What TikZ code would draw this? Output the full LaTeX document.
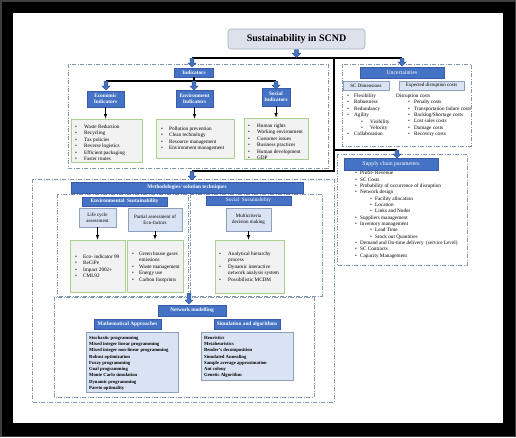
\documentclass[tikz,border=0pt]{standalone}
\usepackage{fontspec}
\setmainfont{Liberation Serif}
\usetikzlibrary{shapes.arrows}
\definecolor{boxblue}{HTML}{4472C4}
\definecolor{boxedge}{HTML}{3A5CA8}
\definecolor{arrowedge}{HTML}{2F528F}
\definecolor{paleblue}{HTML}{DAE3F3}
\definecolor{paleedge}{HTML}{8FA0BC}
\definecolor{titlefill}{HTML}{DCE1EC}
\definecolor{titleedge}{HTML}{A6AFC0}
\definecolor{listgray}{HTML}{F2F2F2}
\definecolor{listgreen}{HTML}{A9D08E}
\definecolor{groupline}{HTML}{8497B0}
\newcommand{\itm}[1]{\makebox[#1][l]{\textbullet}}
\begin{document}
\begin{tikzpicture}[x=1pt,y=-1pt,
    bluebox/.style={fill=boxblue,draw=boxedge,line width=0.4pt,text=white,align=center,inner sep=0pt,font=\fontsize{5.3}{6.2}\selectfont},
    palebox/.style={fill=paleblue,draw=paleedge,line width=0.5pt,align=center,inner sep=0pt,font=\fontsize{5}{6.2}\selectfont},
    listbox/.style={fill=listgray,draw=listgreen,line width=0.8pt,inner sep=0pt},
    group/.style={draw=groupline,line width=0.8pt,dash pattern=on 4pt off 1.5pt on 1pt off 1.5pt},
    trunk/.style={line width=1.2pt},
    pointer/.style={-latex,line width=0.6pt},
    blockarrow/.style={single arrow,shape border rotate=270,fill=boxblue,draw=arrowedge,line width=0.4pt,
        inner sep=1.7pt,single arrow head extend=2.2pt,single arrow head indent=0pt,minimum height=#1,anchor=tail},
    items/.style={anchor=north west,inner sep=0pt,align=left,font=\fontsize{5.2}{6.35}\selectfont}]
    \useasboundingbox (0,0) rectangle (516,437);
    \fill[black] (0,0) rectangle (516,437);
    \draw[black!75,line width=1.5pt] (0.75,0.75) rectangle (515.25,436.25);
    \fill[white] (13,13) rectangle (503,423);

    \draw[group] (68,64) rectangle (328,168);
    \draw[group] (342,64) rectangle (471,146);
    \draw[group] (337,154) rectangle (467,265);
    \draw[group] (32,179) rectangle (334,402);
    \draw[group] (57,194) rectangle (188,296);
    \draw[group] (190,194) rectangle (322,296);
    \draw[group] (54,297) rectangle (314,397);

    \node[rounded corners=3pt,fill=titlefill,draw=titleedge,line width=0.6pt,minimum width=137pt,minimum height=20pt,
        font=\bfseries\fontsize{10}{12}\selectfont] (title) at (296.5,39) {Sustainability in SCND};

    \node[bluebox,minimum width=39pt,minimum height=9pt] (ind) at (194,72.5) {\textbf{Indicators}};
    \node[bluebox,minimum width=37pt,minimum height=16pt] (eco) at (105.5,99) {\textbf{Economic}\\\textbf{Indicators}};
    \node[bluebox,minimum width=37pt,minimum height=17pt] (env) at (194.5,98.5) {\textbf{Environment}\\\textbf{Indicators}};
    \node[bluebox,minimum width=28pt,minimum height=18pt] (soc) at (276,97) {\textbf{Social}\\\textbf{Indicators}};
    \node[bluebox,minimum width=84pt,minimum height=11pt,font=\fontsize{5.8}{7}\selectfont] (unc) at (402,72.5) {Uncertainties};
    \node[bluebox,minimum width=94pt,minimum height=12pt,font=\fontsize{5.8}{7}\selectfont] (sup) at (391,164) {Supply chain parameters};
    \node[bluebox,minimum width=232pt,minimum height=11pt] (meth) at (187,187.5) {\textbf{Methodologies/ solution techniques}};
    \node[bluebox,minimum width=85pt,minimum height=9pt] (envsus) at (124.5,201.5) {\textbf{Environmental\ \ Sustainability}};
    \node[bluebox,minimum width=85pt,minimum height=9pt] (socsus) at (248.5,200.5) {Social\ \ Sustainability};
    \node[bluebox,minimum width=68pt,minimum height=11pt] (net) at (192,310.5) {\textbf{Network modelling}};
    \node[bluebox,minimum width=67pt,minimum height=10pt] (math) at (127.5,324) {\textbf{Mathematical Approaches}};
    \node[bluebox,minimum width=66pt,minimum height=10pt] (sim) at (247,324) {\textbf{Simulation and algorithms}};

    \node[palebox,minimum width=46pt,minimum height=9pt] (scdim) at (366,85.5) {SC Dimensions};
    \node[palebox,minimum width=65pt,minimum height=9pt] (edc) at (431.5,85.5) {Expected disruption costs};
    \node[palebox,minimum width=37pt,minimum height=19pt] (lca) at (97.5,217.5) {Life cycle\\assessment};
    \node[palebox,minimum width=54pt,minimum height=23pt] (pae) at (155,219.5) {Partial assessment of\\Eco-factors};
    \node[palebox,minimum width=45pt,minimum height=23pt] (mcdm) at (248.5,219.5) {Multicriteria\\decision making};
    \node[palebox,minimum width=92pt,minimum height=60pt] (mathlist) at (132,362) {};
    \node[palebox,minimum width=92pt,minimum height=48pt] (simlist) at (247,356) {};

    \node[listbox,minimum width=71pt,minimum height=43pt] (ecolist) at (106.5,140.5) {};
    \node[listbox,minimum width=78pt,minimum height=39pt] (envlist) at (195,138.5) {};
    \node[listbox,minimum width=64pt,minimum height=41pt] (soclist) at (276,138.5) {};
    \node[listbox,minimum width=55pt,minimum height=52pt] (lcalist) at (97.5,266) {};
    \node[listbox,minimum width=56pt,minimum height=52pt] (ecflist) at (155,266) {};
    \node[listbox,minimum width=69pt,minimum height=53pt] (mcdmlist) at (249.5,266.5) {};

    \node[items] (ecotext) at (75,124.8) {\itm{9pt}Waste Reduction\\\itm{9pt}Recycling\\\itm{9pt}Tax policies\\
        \itm{9pt}Reverse logistics\\\itm{9pt}Efficient packaging\\\itm{9pt}Faster routes};
    \node[items] (envtext) at (161,126.8) {\itm{8pt}Pollution prevention\\\itm{8pt}Clean technology\\
        \itm{8pt}Resource management\\\itm{8pt}Environment management};
    \node[items] (soctext) at (248,123.8) {\itm{9pt}Human rights\\\itm{9pt}Working environment\\\itm{9pt}Customer issues\\
        \itm{9pt}Business practices\\\itm{9pt}Human development\\\itm{9pt}GDP};
    \node[items] (dimtext) at (347,93.8) {\itm{7pt}Flexibility\\\itm{7pt}Robustness\\\itm{7pt}Redundancy\\\itm{7pt}Agility\\
        \hspace*{14pt}\itm{9pt}Visibility\\\hspace*{14pt}\itm{9pt}Velocity\\\itm{7pt}Collaboration};
    \node[items] (costtext) at (396,93.8) {Disruption costs\\\hspace*{12pt}\itm{6pt}Penalty costs\\
        \hspace*{12pt}\itm{6pt}Transportation failure costs\\\hspace*{12pt}\itm{6pt}Backlog/Shortage costs\\
        \hspace*{12pt}\itm{6pt}Lost sales costs\\\hspace*{12pt}\itm{6pt}Damage costs\\\hspace*{12pt}\itm{6pt}Recovery costs};
    \node[items] (suptext) at (355,170.8) {\itm{5pt}Profit- Revenue\\\itm{5pt}SC Costs\\
        \itm{5pt}Probability of occurrence of disruption\\\itm{5pt}Network design\\
        \hspace*{15pt}\itm{5pt}Facility allocation\\\hspace*{15pt}\itm{5pt}Location\\\hspace*{15pt}\itm{5pt}Links and Nodes\\
        \itm{5pt}Suppliers management\\\itm{5pt}Inventory management\\
        \hspace*{15pt}\itm{5pt}Lead Time\\\hspace*{15pt}\itm{5pt}Stock out Quantities\\
        \itm{5pt}Demand and On-time delivery\ \ (service Level)\\\itm{5pt}SC Contracts\\\itm{5pt}Capacity Management};
    \node[items] (lcatext) at (75,254.8) {\itm{8pt}Eco- indicator 99\\\itm{8pt}ReCiPe\\\itm{8pt}Impact 2002+\\\itm{8pt}CML92};
    \node[items] (ecftext) at (132,251.8) {\itm{7pt}Green house gases\\\hspace*{7pt}emissions\\
        \itm{7pt}Waste management\\\itm{7pt}Energy use\\\itm{7pt}Carbon footprints};
    \node[items] (mcdmtext) at (219,251.8) {\itm{9pt}Analytical hierarchy\\\hspace*{9pt}process\\
        \itm{9pt}Dynamic interactive\\\hspace*{9pt}network analysis system\\\itm{9pt}Possibilistic MCDM};
    \node[items,font=\bfseries\fontsize{4.7}{6.25}\selectfont] (mathtext) at (89,335.8) {Stochastic programming\\
        Mixed integer linear programming\\Mixed integer non-linear programming\\Robust optimization\\
        Fuzzy programming\\Goal programming\\Monte Carlo simulation\\Dynamic programming\\Pareto optimality};
    \node[items,font=\bfseries\fontsize{4.7}{6.25}\selectfont] (simtext) at (204,335.8) {Heuristics\\Metaheuristics\\
        Bender's decomposition\\Simulated Annealing\\Sample average approximation\\Ant colony\\Genetic Algorithm};

    \coordinate (fork) at (334,58);
    \draw[trunk] (192,58) -- (402,58);
    \draw[trunk] (fork) |- (192,171);
    \draw[trunk] (fork |- 0,150) -- (397,150);
    \draw[trunk] (ind.south) -- (194,81);
    \draw[trunk] (106,81) -- (276,81);

    \node[blockarrow=8pt] (artitle) at (title.south) {};
    \node[blockarrow=9pt] (arind) at (192,58) {};
    \node[blockarrow=8pt] (arunc) at (402,58) {};
    \node[blockarrow=8pt] (arsup) at (397,150) {};
    \node[blockarrow=9pt] (armeth) at (192,171) {};
    \node[blockarrow=9pt] (areco) at (106,81) {};
    \node[blockarrow=9pt] (arenv) at (194,81) {};
    \node[blockarrow=8pt] (arsoc) at (276,81) {};
    \node[blockarrow=11pt] (arnet) at (189,293) {};

    \foreach \a/\b in {eco/ecolist, env/envlist, soc/soclist, lca/lcalist, pae/ecflist, mcdm/mcdmlist}
        \draw[pointer] (\a.south) -- (\a.south |- \b.north);
\end{tikzpicture}
\end{document}
